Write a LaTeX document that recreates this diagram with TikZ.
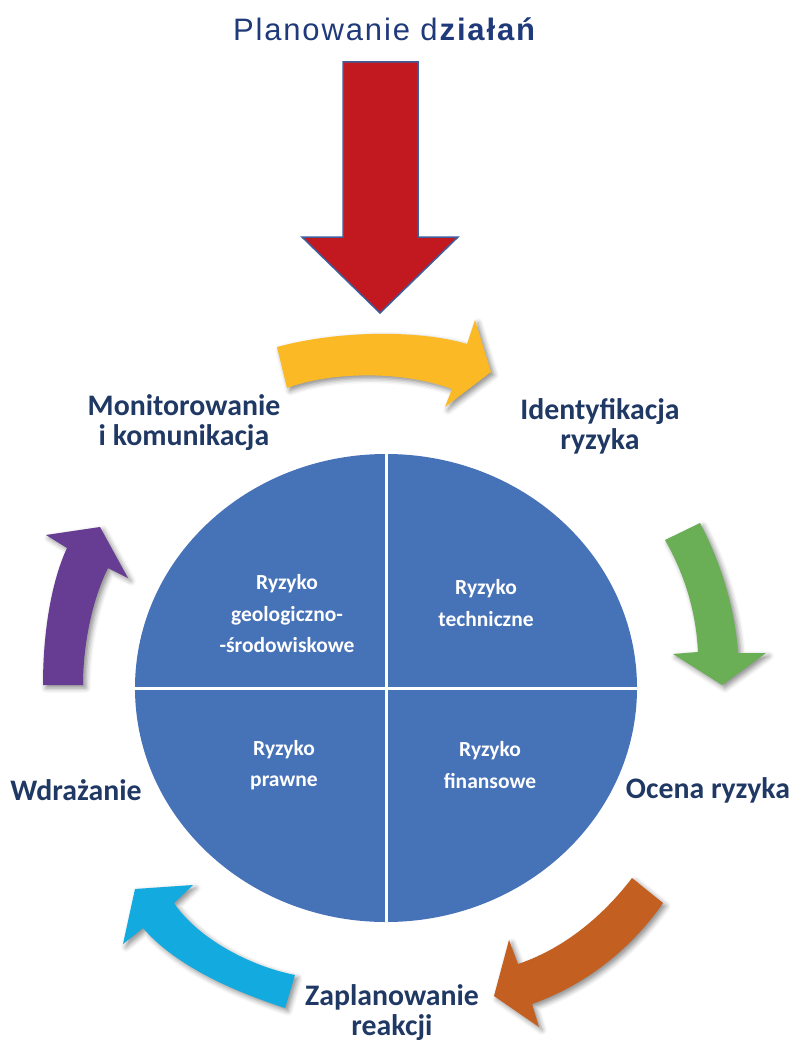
\documentclass[tikz,border=0pt]{standalone}
\usepackage{fontspec}
\usetikzlibrary{shadows.blur}
\newfontfamily\calb{Carlito}
\newfontfamily\titlefont{Liberation Sans}[LetterSpace=6]
\definecolor{navy}{HTML}{1F3864}
\definecolor{titlenavy}{HTML}{1F3A7A}
\definecolor{circ}{HTML}{4672B8}
\definecolor{yel}{HTML}{FBBA25}
\definecolor{grn}{HTML}{6AAE56}
\definecolor{org}{HTML}{C35F20}
\definecolor{cyn}{HTML}{13AAE0}
\definecolor{prp}{HTML}{663D92}
\definecolor{redarr}{HTML}{C1191F}
\definecolor{redline}{HTML}{3D5E9E}
\begin{document}
\begin{tikzpicture}[x=1pt,y=-1pt,
  lbl/.style={font=\calb\bfseries\fontsize{29.8}{30}\selectfont, text=navy, align=center, inner sep=0pt},
  rz/.style={font=\calb\bfseries\fontsize{21.5}{31.5}\selectfont, text=white, align=center, inner sep=0pt},
  arr/.style={blur shadow={shadow xshift=3pt, shadow yshift=-3pt, shadow blur radius=5pt, shadow opacity=45}}]
\useasboundingbox (0,0) rectangle (790,1043);

% title
\node[font=\titlefont\fontsize{31}{33}\selectfont, text=titlenavy, inner sep=0pt] (title) at (385,29) {Planowanie d\textbf{ziałań}};

% red arrow
\draw[fill=redarr, draw=redline, line width=1.5pt, line join=miter]
  (343,62) -- (418,62) -- (418,237) -- (458,237) -- (380,313) -- (302,237) -- (343,237) -- cycle;

% circle
\fill[circ] (386,688) ellipse [x radius=251pt, y radius=234pt];
\begin{scope}
  \clip (386,688) ellipse [x radius=251pt, y radius=234pt];
  \draw[white, line width=3pt] (386,440) -- (386,940);
  \draw[white, line width=3pt] (120,688) -- (650,688);
\end{scope}

% cycle arrows
\fill[yel, arr] (277,347) .. controls (340,330) and (420,330) .. (467,344) -- (475,320) -- (491,372) -- (445,407) -- (452,389) .. controls (400,370) and (330,372) .. (287,388) -- cycle;
\fill[grn, arr] (665,540) -- (700,523) .. controls (722,565) and (735,610) .. (738,653) -- (766,653) -- (722,685) -- (673,654) -- (698,652) .. controls (696,612) and (685,575) .. (665,540) -- cycle;
\fill[org, arr] (632,878) -- (663,903) .. controls (630,950) and (585,985) .. (532,1004) -- (539,1027) -- (494,996) -- (509,940) -- (518,964) .. controls (560,950) and (600,920) .. (632,878) -- cycle;
\fill[cyn, arr] (295,975) -- (285,1008) .. controls (230,990) and (175,965) .. (143,928) -- (123,944) -- (135,889) -- (193,885) -- (174,903) .. controls (195,935) and (245,965) .. (295,975) -- cycle;
\fill[prp, arr] (43,685) -- (83,685) .. controls (83,645) and (92,600) .. (108,568) -- (128,578) -- (100,527) -- (46,535) -- (67,548) .. controls (52,580) and (43,630) .. (43,685) -- cycle;

% labels
\node[lbl] (mon) at (184,423) {Monitorowanie\\i komunikacja};
\node[lbl] (ident) at (600,426) {Identyfikacja\\ryzyka};
\node[lbl] (ocena) at (708,790) {Ocena ryzyka};
\node[lbl] (wdr) at (76,790) {Wdrażanie};
\node[lbl] (zapl) at (392,1013) {Zaplanowanie\\reakcji};

% circle texts
\node[rz] (r1) at (287,614) {Ryzyko\\geologiczno-\\-środowiskowe};
\node[rz] (r2) at (486,603) {Ryzyko\\techniczne};
\node[rz] (r3) at (284,765) {Ryzyko\\prawne};
\node[rz] (r4) at (490,765) {Ryzyko\\finansowe};
\end{tikzpicture}
\end{document}
